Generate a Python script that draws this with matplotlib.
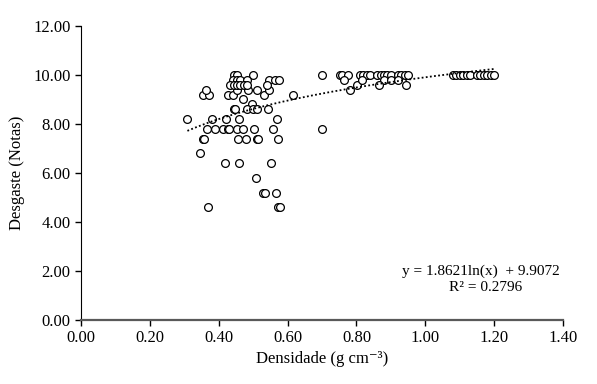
import matplotlib
matplotlib.use("Agg")
import matplotlib.pyplot as plt
import numpy as np

plt.rcParams['font.family'] = ['Liberation Serif', 'DejaVu Serif']

# ---------------- DATA ----------------
dens_low = [0.309, 0.346, 0.355, 0.358, 0.353, 0.371, 0.363, 0.370, 0.381,
            0.367, 0.390, 0.411, 0.427, 0.431, 0.452, 0.471, 0.502, 0.557, 0.700,
            0.422, 0.459, 0.569, 0.428, 0.440, 0.454, 0.486, 0.512, 0.531, 0.545,
            0.617, 0.471, 0.497, 0.444, 0.448, 0.483, 0.500, 0.512, 0.543,
            0.444, 0.454, 0.499, 0.700, 0.752,
            0.442, 0.452, 0.462, 0.483, 0.545, 0.562, 0.576,
            0.433, 0.443, 0.452, 0.462, 0.472, 0.481, 0.541,
            0.456, 0.478, 0.510, 0.514, 0.571, 0.419, 0.460, 0.551,
            0.507, 0.530, 0.534, 0.566, 0.573, 0.577]
nota_low = [8.2, 6.8, 7.4, 7.4, 9.2, 9.2, 9.4, 4.6, 8.2,
            7.8, 7.8, 7.8, 7.8, 7.8, 7.8, 7.8, 7.8, 7.8, 7.8,
            8.2, 8.2, 8.2, 9.2, 9.2, 9.4, 9.4, 9.4, 9.2, 9.4,
            9.2, 9.0, 8.8, 8.6, 8.6, 8.6, 8.6, 8.6, 8.6,
            10.0, 10.0, 10.0, 10.0, 10.0,
            9.8, 9.8, 9.8, 9.8, 9.8, 9.8, 9.8,
            9.6, 9.6, 9.6, 9.6, 9.6, 9.6, 9.6,
            7.4, 7.4, 7.4, 7.4, 7.4, 6.4, 6.4, 6.4,
            5.8, 5.2, 5.2, 5.2, 4.6, 4.6]

dens_high = [0.757, 0.776, 0.764, 0.781, 0.803,
             0.81, 0.82, 0.83, 0.84, 0.86, 0.87, 0.88, 0.89, 0.90, 0.92, 0.93, 0.94, 0.95,
             0.815, 0.88, 0.90, 0.92, 0.866, 0.944,
             1.08, 1.09, 1.10, 1.11, 1.12, 1.13, 1.15, 1.16, 1.17, 1.18, 1.19, 1.20]
nota_high = [10.0, 10.0, 9.8, 9.4, 9.6,
             10.0, 10.0, 10.0, 10.0, 10.0, 10.0, 10.0, 10.0, 10.0, 10.0, 10.0, 10.0, 10.0,
             9.8, 9.8, 9.8, 9.8, 9.6, 9.6,
             10.0, 10.0, 10.0, 10.0, 10.0, 10.0, 10.0, 10.0, 10.0, 10.0, 10.0, 10.0]

coef_a = 1.8621
coef_b = 9.9072

dens = np.array(dens_low + dens_high)
nota = np.array(nota_low + nota_high)

# ---------------- PLOT ----------------
fig = plt.figure(figsize=(5.97, 3.84), dpi=100)
ax = fig.add_axes([0.1357, 0.1667, 0.8074, 0.7656])

ax.plot(dens, nota, 'o', mfc='white', mec='black', ms=5.6, mew=0.9, ls='none')

xt = np.linspace(dens.min(), dens.max(), 200)
ax.plot(xt, coef_a * np.log(xt) + coef_b, color='black', ls=(0, (1, 1.3)), lw=1.3)

ax.set_xlim(0, 1.4)
ax.set_ylim(0, 12)
ax.set_xticks(np.arange(0, 1.41, 0.2))
ax.set_yticks(np.arange(0, 12.1, 2))
ax.set_xticklabels(['%.2f' % v for v in np.arange(0, 1.41, 0.2)])
ax.set_yticklabels(['%.2f' % v for v in np.arange(0, 12.1, 2)])
ax.tick_params(labelsize=12, direction='out', length=4, width=1, colors='black')

ax.spines['top'].set_visible(False)
ax.spines['right'].set_visible(False)
ax.spines['left'].set_color('black')
ax.spines['bottom'].set_color('#595959')
ax.spines['bottom'].set_linewidth(1.6)

ax.set_xlabel('Densidade (g cm⁻³)', fontsize=12, labelpad=3)
ax.set_ylabel('Desgaste (Notas)', fontsize=12, labelpad=6)

ax.text(1.16, 1.98, 'y = 1.8621ln(x)  + 9.9072', fontsize=11, ha='center', va='center')
ax.text(1.175, 1.33, 'R² = 0.2796', fontsize=11, ha='center', va='center')

fig.savefig('out.png', dpi=100)
